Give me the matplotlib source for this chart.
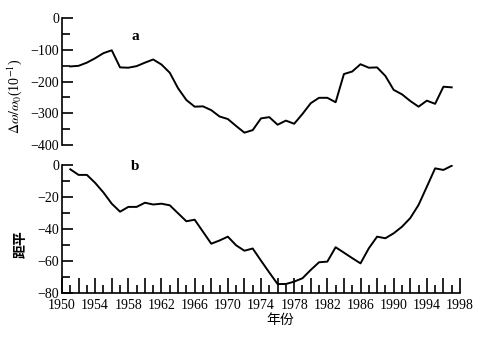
import matplotlib
matplotlib.use("Agg")
import matplotlib.pyplot as plt
from matplotlib.ticker import MultipleLocator, FuncFormatter

plt.rcParams['font.family'] = ['Liberation Serif', 'Noto Sans CJK SC']
plt.rcParams['mathtext.fontset'] = 'stix'

years = list(range(1951, 1998))
series_a = [-152, -150, -140, -126, -110, -101, -155, -156, -151, -140,
            -130, -146, -172, -221, -258, -279, -278, -290, -310, -318,
            -340, -361, -353, -316, -312, -336, -323, -333, -302, -268,
            -251, -251, -265, -176, -168, -145, -156, -155, -182, -226,
            -240, -261, -279, -260, -270, -216, -218]
series_b = [-2.5, -6, -6, -11, -17, -24, -29, -26, -26, -23.4,
            -24.5, -24, -25, -30, -35, -34, -41.5, -49, -47, -44.6,
            -50, -53.4, -52, -59.6, -67, -74.2, -74.2, -72.7, -70.6, -65.4,
            -60.6, -60.2, -51.2, -54.6, -58, -61.3, -51.9, -44.6, -45.6, -42.5,
            -38.4, -33, -24.8, -13.4, -1.9, -2.9, -0.3]
xticks_labeled = list(range(1950, 1999, 4))

W, H = 503, 337
fig = plt.figure(figsize=(W / 100, H / 100), dpi=100)

left = 62 / W
width = (460 - 62) / W
ax1 = fig.add_axes([left, 1 - 145 / H, width, (145 - 18.3) / H])
ax2 = fig.add_axes([left, 1 - 293.3 / H, width, (293.3 - 165.3) / H])

fs = 10
for ax in (ax1, ax2):
    ax.set_xlim(1950, 1998)
    ax.spines['top'].set_visible(False)
    ax.spines['right'].set_visible(False)
    for s in ax.spines.values():
        s.set_linewidth(1.2)

ax1.plot(years, series_a, color='black', lw=1.4)
ax1.set_ylim(-400, 0)
ax1.spines['bottom'].set_visible(False)
ax1.set_xticks([])
ax1.yaxis.set_major_locator(MultipleLocator(100))
ax1.yaxis.set_minor_locator(MultipleLocator(50))
ax1.tick_params(axis='y', which='major', direction='in', length=8, width=1.2, labelsize=fs, pad=2)
ax1.tick_params(axis='y', which='minor', direction='in', length=6, width=1.2)
ax1.yaxis.set_major_formatter(FuncFormatter(lambda v, p: f"{int(v)}".replace('-', '\u2212')))
ax1.text(1958.8, -58, 'a', fontsize=11, fontweight='bold', ha='center', va='center')

ax2.plot(years, series_b, color='black', lw=1.4)
ax2.set_ylim(-80, 0)
ax2.yaxis.set_major_locator(MultipleLocator(20))
ax2.yaxis.set_minor_locator(MultipleLocator(10))
ax2.tick_params(axis='y', which='major', direction='in', length=8, width=1.2, labelsize=fs, pad=2)
ax2.tick_params(axis='y', which='minor', direction='in', length=6, width=1.2)
ax2.yaxis.set_major_formatter(FuncFormatter(lambda v, p: f"{int(v)}".replace('-', '\u2212')))
ax2.xaxis.set_major_locator(MultipleLocator(2))
ax2.xaxis.set_minor_locator(MultipleLocator(1))
ax2.xaxis.set_major_formatter(FuncFormatter(lambda v, p: f"{int(round(v))}" if int(round(v)) in xticks_labeled else ''))
ax2.tick_params(axis='x', which='major', direction='in', length=11, width=1.2, labelsize=fs, pad=4)
ax2.tick_params(axis='x', which='minor', direction='in', length=6, width=1.2)
ax2.text(1958.8, -0.5, 'b', fontsize=11, fontweight='bold', ha='center', va='center')

fig.text(15 / W, 1 - 96 / H, r'$\Delta\omega/\omega_0$(10$^{-1}$)', rotation=90,
         ha='center', va='center', fontsize=fs)
fig.text(21.7 / W, 1 - 244 / H, '距平', rotation=90, ha='center', va='center',
         fontsize=10, fontweight='bold')
fig.text(280 / W, 1 - 320 / H, '年份', ha='center', va='center', fontsize=10)

fig.savefig('out.png', dpi=100)
